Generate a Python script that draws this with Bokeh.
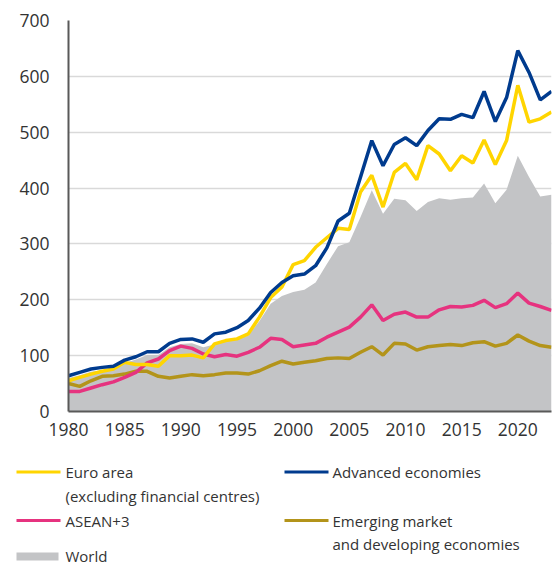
from bokeh.plotting import figure
from bokeh.models import Range1d, FixedTicker, ColumnDataSource
from bokeh.core.properties import value
from bokeh.embed import file_html
from bokeh.resources import INLINE

years = list(range(1980, 2024))
advanced = [64, 70, 76, 79, 81, 92, 98, 107, 107, 122,
            129, 130, 124, 139, 142, 150, 163, 185, 213, 231,
            243, 246, 261, 293, 341, 355, 420, 485, 440, 478,
            490, 476, 503, 524, 523, 532, 526, 573, 519, 562,
            646, 607, 558, 573]
euro = [55, 61, 67, 72, 76, 88, 84, 84, 81, 100,
        100, 101, 96, 121, 127, 130, 139, 169, 204, 223,
        263, 270, 294, 311, 328, 326, 393, 423, 366, 428,
        444, 415, 476, 461, 431, 458, 445, 486, 442, 485,
        584, 518, 524, 536]
asean = [36, 36, 42, 48, 53, 61, 70, 87, 94, 109,
         117, 113, 103, 98, 102, 99, 106, 115, 131, 129,
         116, 119, 122, 133, 142, 151, 169, 191, 163, 174,
         178, 169, 169, 182, 188, 187, 190, 199, 186, 193,
         212, 194, 188, 181]
emde = [50, 45, 55, 63, 64, 67, 72, 72, 63, 60,
        63, 66, 64, 66, 69, 69, 67, 73, 82, 90,
        85, 88, 91, 95, 96, 95, 106, 116, 101, 122,
        121, 110, 116, 118, 120, 118, 123, 125, 117, 122,
        137, 126, 118, 115]
world = [60, 65, 71, 74, 76, 87, 93, 101, 101, 115,
         121, 122, 115, 120, 126, 129, 136, 162, 193, 207,
         214, 218, 231, 264, 296, 303, 348, 396, 354, 381,
         378, 359, 375, 382, 379, 382, 383, 408, 373, 397,
         458, 420, 385, 388]

x_ticks = [1980, 1985, 1990, 1995, 2000, 2005, 2010, 2015, 2020]
y_ticks = [0, 100, 200, 300, 400, 500, 600, 700]

legend_left = [["Euro area", "(excluding financial centres)"], ["ASEAN+3"], ["World"]]
legend_right = [["Advanced economies"], ["Emerging market", "and developing economies"]]

C_EURO = "#FFD500"
C_ADV = "#003B8E"
C_ASEAN = "#E6337F"
C_EMDE = "#B3941A"
C_WORLD = "#C3C4C6"
TXT = "#333333"
FONT = "Open Sans"

src = ColumnDataSource(dict(year=years, adv=advanced, euro=euro, asean=asean,
                            emde=emde, world=world, zero=[0] * len(years)))

p = figure(width=552, height=458, output_backend="svg", toolbar_location=None,
           x_range=Range1d(1980, 2023), y_range=Range1d(0, 700),
           min_border_left=68, min_border_right=1, min_border_top=20,
           min_border_bottom=47)
p.outline_line_color = None
p.background_fill_color = "white"

p.varea(x="year", y1="zero", y2="world", source=src, fill_color=C_WORLD)
p.line(x="year", y="emde", source=src, line_color=C_EMDE, line_width=3.5)
p.line(x="year", y="asean", source=src, line_color=C_ASEAN, line_width=3.5)
p.line(x="year", y="euro", source=src, line_color=C_EURO, line_width=3.5)
p.line(x="year", y="adv", source=src, line_color=C_ADV, line_width=3.5)

p.xgrid.grid_line_color = None
p.ygrid.grid_line_color = "#d9d9d9"
p.ygrid.grid_line_width = 1.5

p.xaxis.ticker = FixedTicker(ticks=x_ticks)
p.yaxis.ticker = FixedTicker(ticks=y_ticks)
for ax in (p.xaxis[0], p.yaxis[0]):
    ax.axis_line_color = "#595959"
    ax.axis_line_width = 2
    ax.major_tick_line_color = None
    ax.minor_tick_line_color = None
    ax.major_tick_out = 0
    ax.major_tick_in = 0
    ax.minor_tick_out = 0
    ax.major_label_text_font = FONT
    ax.major_label_text_font_size = "17.5px"
    ax.major_label_text_color = TXT
p.yaxis.major_label_standoff = 19
p.xaxis.major_label_standoff = 11

# legend strip below the chart, drawn in pixel units (separate root, no frame alignment)
lg = figure(width=552, height=107, output_backend="svg", toolbar_location=None,
            x_range=Range1d(0, 552), y_range=Range1d(107, 0),
            x_axis_location=None, y_axis_location=None, min_border=0)
lg.outline_line_color = None
lg.xgrid.visible = False
lg.ygrid.visible = False

lg.segment(x0=[16], y0=[13.5], x1=[60], y1=[13.5], line_color=C_EURO, line_width=3)
lg.segment(x0=[16], y0=[62], x1=[60], y1=[62], line_color=C_ASEAN, line_width=3)
lg.quad(left=[16], right=[58], top=[94], bottom=[102], fill_color=C_WORLD, line_color=None)
lg.segment(x0=[284], y0=[13.5], x1=[328], y1=[13.5], line_color=C_ADV, line_width=3)
lg.segment(x0=[284], y0=[62], x1=[328], y1=[62], line_color=C_EMDE, line_width=3)

left_rows = [(legend_left[0][0], 13), (legend_left[0][1], 37),
             (legend_left[1][0], 62), (legend_left[2][0], 97)]
right_rows = [(legend_right[0][0], 13), (legend_right[1][0], 62),
              (legend_right[1][1], 85)]
lg.text(x=[65] * len(left_rows), y=[r[1] for r in left_rows], text=[r[0] for r in left_rows],
        text_font=value(FONT), text_font_size="15px", text_color=TXT,
        text_baseline="middle", text_align="left")
lg.text(x=[332] * len(right_rows), y=[r[1] for r in right_rows], text=[r[0] for r in right_rows],
        text_font=value(FONT), text_font_size="15px", text_color=TXT,
        text_baseline="middle", text_align="left")

open("out.html", "w").write(file_html([p, lg], INLINE))
